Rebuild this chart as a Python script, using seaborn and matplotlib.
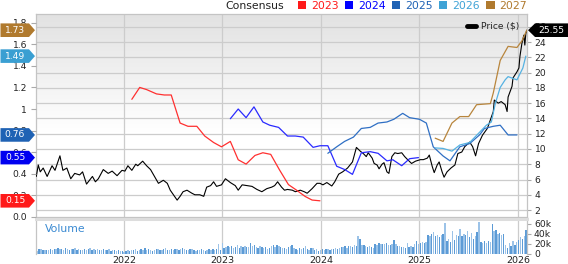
import numpy as np
import pandas as pd
import matplotlib
matplotlib.use("Agg")
import matplotlib.pyplot as plt
import matplotlib.transforms as mtransforms
from matplotlib.patches import Polygon, Patch
from matplotlib.lines import Line2D
from matplotlib.colors import LinearSegmentedColormap
import seaborn as sns

# ---------------- data ----------------
price_t = [2021.11, 2021.13, 2021.15, 2021.18, 2021.22, 2021.27, 2021.30, 2021.35, 2021.38, 2021.42,
           2021.46, 2021.50, 2021.55, 2021.58, 2021.62, 2021.68, 2021.71, 2021.74, 2021.79, 2021.84,
           2021.88, 2021.93, 2021.98, 2022.01, 2022.04, 2022.08, 2022.12, 2022.14, 2022.19, 2022.23,
           2022.27, 2022.31, 2022.35, 2022.40, 2022.44, 2022.47, 2022.54, 2022.57, 2022.60, 2022.64,
           2022.69, 2022.72, 2022.77, 2022.81, 2022.84, 2022.88, 2022.91, 2022.94, 2022.99, 2023.03,
           2023.08, 2023.13, 2023.16, 2023.20, 2023.25, 2023.30, 2023.35, 2023.40, 2023.45, 2023.50,
           2023.53, 2023.56, 2023.60, 2023.63, 2023.66, 2023.71, 2023.74, 2023.79, 2023.83, 2023.86,
           2023.91, 2023.96, 2023.99, 2024.02, 2024.06, 2024.11, 2024.14, 2024.18, 2024.22, 2024.27,
           2024.32, 2024.36, 2024.40, 2024.43, 2024.46, 2024.48, 2024.52, 2024.54, 2024.57, 2024.59,
           2024.62, 2024.64, 2024.67, 2024.69, 2024.72, 2024.75, 2024.78, 2024.82, 2024.85, 2024.88,
           2024.92, 2024.96, 2025.01, 2025.04, 2025.08, 2025.10, 2025.13, 2025.15, 2025.18, 2025.20,
           2025.23, 2025.25, 2025.28, 2025.32, 2025.36, 2025.39, 2025.43, 2025.46, 2025.51, 2025.54,
           2025.57, 2025.60, 2025.64, 2025.69, 2025.72, 2025.75, 2025.76, 2025.80, 2025.83, 2025.87,
           2025.89, 2025.90, 2025.94, 2025.95, 2025.99, 2026.01, 2026.02, 2026.04, 2026.06, 2026.07,
           2026.08, 2026.09]
price_v = [6.4, 7.9, 7.0, 7.5, 6.4, 7.8, 7.2, 9.1, 7.2, 7.5,
           6.1, 6.8, 6.6, 7.0, 5.4, 6.4, 5.7, 6.1, 7.3, 6.8,
           7.1, 6.5, 7.2, 7.1, 7.8, 7.2, 8.0, 7.8, 8.4, 7.8,
           7.3, 6.4, 5.5, 5.9, 5.5, 4.6, 3.3, 3.8, 4.4, 4.6,
           4.2, 4.0, 4.0, 3.8, 5.0, 5.2, 5.7, 5.1, 5.3, 6.1,
           5.6, 5.2, 4.6, 5.3, 5.2, 5.1, 4.7, 4.4, 4.8, 5.0,
           5.2, 5.7, 5.0, 4.6, 4.7, 4.6, 4.4, 4.6, 4.4, 4.2,
           4.8, 5.5, 5.5, 5.3, 5.6, 5.15, 5.7, 6.7, 7.0, 7.5,
           8.3, 10.2, 9.7, 9.4, 9.0, 9.5, 8.8, 8.1, 7.9, 7.4,
           8.0, 8.2, 7.0, 6.8, 9.0, 9.5, 9.4, 9.5, 9.0, 8.6,
           8.1, 8.4, 8.6, 8.6, 8.8, 9.2, 7.7, 6.9, 7.9, 8.3,
           7.0, 6.3, 7.0, 7.5, 7.9, 9.4, 9.6, 10.3, 10.9, 10.3,
           9.1, 10.7, 11.8, 12.7, 13.8, 14.9, 16.4, 16.0, 16.2, 15.8,
           14.9, 16.8, 18.2, 19.3, 20.1, 20.6, 22.1, 23.8, 24.9, 23.6,
           25.1, 25.55]

eps_2023_t = [2022.08, 2022.16, 2022.23, 2022.33, 2022.41, 2022.48, 2022.57, 2022.65, 2022.74, 2022.82,
              2022.91, 2022.99, 2023.08, 2023.16, 2023.24, 2023.33, 2023.41, 2023.49, 2023.58, 2023.67,
              2023.75, 2023.84, 2023.91, 2023.99]
eps_2023_v = [1.09, 1.20, 1.18, 1.14, 1.13, 1.13, 0.87, 0.84, 0.84, 0.75,
              0.69, 0.65, 0.70, 0.53, 0.49, 0.57, 0.595, 0.58, 0.435, 0.30,
              0.25, 0.19, 0.157, 0.15]

eps_2024_t = [2023.08, 2023.16, 2023.24, 2023.32, 2023.41, 2023.48, 2023.57, 2023.66, 2023.74, 2023.82,
              2023.92, 2023.99, 2024.07, 2024.16, 2024.24, 2024.32, 2024.41, 2024.50, 2024.58, 2024.67,
              2024.73, 2024.82, 2024.90, 2024.99]
eps_2024_v = [0.91, 1.00, 0.92, 1.02, 0.88, 0.85, 0.83, 0.75, 0.75, 0.74,
              0.645, 0.66, 0.66, 0.47, 0.44, 0.395, 0.595, 0.605, 0.59, 0.52,
              0.53, 0.475, 0.54, 0.55]

eps_2025_t = [2024.07, 2024.16, 2024.24, 2024.33, 2024.41, 2024.50, 2024.58, 2024.67, 2024.74, 2024.83,
              2024.90, 2025.00, 2025.07, 2025.14, 2025.24, 2025.31, 2025.41, 2025.51, 2025.61, 2025.66,
              2025.75, 2025.82, 2025.90, 2025.99]
eps_2025_v = [0.59, 0.65, 0.70, 0.74, 0.82, 0.83, 0.87, 0.88, 0.905, 0.96,
              0.92, 0.905, 0.87, 0.65, 0.565, 0.52, 0.65, 0.68, 0.76, 0.82,
              0.84, 0.85, 0.76, 0.76]

eps_2026_t = [2025.16, 2025.24, 2025.33, 2025.41, 2025.51, 2025.60, 2025.68, 2025.73, 2025.77, 2025.82,
              2025.87, 2025.90, 2025.99, 2026.05, 2026.08]
eps_2026_v = [0.64, 0.635, 0.61, 0.667, 0.69, 0.775, 0.85, 0.88, 1.05, 1.20,
              1.27, 1.30, 1.27, 1.38, 1.49]

eps_2027_t = [2025.16, 2025.24, 2025.33, 2025.41, 2025.50, 2025.58, 2025.72, 2025.75, 2025.82, 2025.90,
              2025.99, 2026.04, 2026.09]
eps_2027_v = [0.73, 0.70, 0.87, 0.93, 0.93, 1.04, 1.05, 1.15, 1.45, 1.58,
              1.57, 1.63, 1.73]

fiscal_years = ["2023", "2024", "2025", "2026", "2027"]
latest_eps = [0.15, 0.55, 0.76, 1.49, 1.73]
last_price = 25.55

# weekly volume, thousands of shares
volume_start = 2021.12
vol_2021 = [6, 9, 10, 8, 8, 7, 8, 9, 8, 9, 10, 11, 9, 10, 8, 12, 9, 8, 10, 9,
            11, 8, 9, 7, 8, 9, 7, 10, 11, 8, 9, 8, 10, 7, 8, 9, 7, 8, 9, 6,
            7, 8, 6, 7, 5, 6]
vol_2022 = [4, 5, 7, 6, 8, 7, 9, 6, 8, 10, 7, 12, 8, 9, 7, 6, 8, 9, 10, 7,
            8, 9, 11, 8, 7, 9, 8, 10, 9, 8, 10, 11, 9, 8, 7, 9, 10, 8, 6, 7,
            8, 9, 7, 6, 8, 9, 7, 10, 8, 9, 20, 8]
vol_2023 = [21, 12, 14, 16, 13, 15, 12, 14, 17, 12, 15, 13, 16, 14, 13, 21, 15, 18, 13, 12,
            16, 14, 11, 13, 10, 12, 15, 17, 13, 18, 16, 14, 11, 12, 10, 14, 16, 17, 12, 10,
            8, 11, 9, 12, 16, 10, 8, 12, 11, 7, 10, 6]
vol_2024 = [7, 9, 8, 10, 9, 7, 10, 9, 11, 10, 12, 14, 13, 15, 12, 16, 15, 14, 17, 16,
            36, 30, 18, 17, 15, 14, 16, 13, 12, 20, 18, 21, 20, 19, 20, 22, 18, 17, 19, 28,
            20, 16, 15, 13, 14, 12, 21, 13, 16, 14, 20, 25]
vol_2025 = [20, 22, 24, 21, 23, 38, 36, 40, 43, 35, 38, 33, 37, 40, 61, 25, 30, 23, 45, 28,
            37, 35, 50, 36, 40, 38, 45, 33, 41, 30, 36, 44, 64, 24, 22, 25, 21, 26, 23, 59,
            45, 47, 40, 42, 37, 40, 17, 12, 22, 15, 25, 18]
vol_2026 = [24, 28, 33, 30, 36, 48]

year_ticks = [2022, 2023, 2024, 2025, 2026]
eps_ticks = [0.0, 0.2, 0.4, 0.6, 0.8, 1.0, 1.2, 1.4, 1.6, 1.8]
eps_tick_labels = ["0.0", "0.2", "0.4", "0.6", "0.8", "1", "1.2", "1.4", "1.6", "1.8"]
price_ticks = [2, 4, 6, 8, 10, 12, 14, 16, 18, 20, 22, 24, 26]
vol_ticks = [0, 20, 40, 60]
vol_tick_labels = ["0", "20k", "40k", "60k"]

# ---------------- styling ----------------
fy_colors = ["#ff1a1a", "#0000ff", "#1f62b4", "#3fa3d6", "#b07a2e"]
line_colors = ["#ff3030", "#2a2aff", "#2f6fc4", "#55b2e2", "#b8853c"]
tag_colors = ["#ff1a1a", "#0000f0", "#1f62b4", "#3a9fd2", "#b07a2e"]

sns.set_style("white")
plt.rcParams["font.family"] = ["DejaVu Sans"]

W, H = 568, 264
fig = plt.figure(figsize=(W / 100, H / 100), dpi=100)
fig.patch.set_facecolor("white")


def rect(l, t, r, b):
    return [l / W, 1 - b / H, (r - l) / W, (b - t) / H]


ax_p = fig.add_axes(rect(36, 14, 527, 217))
ax_e = ax_p.twinx()
ax_v = fig.add_axes(rect(36, 219, 527, 253.5))

# gradient background
grad = np.linspace(1, 0, 256).reshape(-1, 1)
bg_cmap = LinearSegmentedColormap.from_list("bg", [(0, "white"), (0.42, "white"), (1, "#e2e2e2")])
ax_p.imshow(grad, extent=(0, 1, 0, 1), transform=ax_p.transAxes, aspect="auto",
            cmap=bg_cmap, vmin=0, vmax=1, zorder=0, interpolation="bilinear")

# price line
sns.lineplot(x=price_t, y=price_v, ax=ax_p, color="black", lw=0.8,
             sort=False, estimator=None, zorder=3)

# EPS consensus lines
eps_t = [eps_2023_t, eps_2024_t, eps_2025_t, eps_2026_t, eps_2027_t]
eps_v = [eps_2023_v, eps_2024_v, eps_2025_v, eps_2026_v, eps_2027_v]
df_eps = pd.concat([pd.DataFrame({"t": t, "eps": v, "fy": fy})
                    for t, v, fy in zip(eps_t, eps_v, fiscal_years)], ignore_index=True)
sns.lineplot(data=df_eps, x="t", y="eps", hue="fy", hue_order=fiscal_years,
             palette=dict(zip(fiscal_years, line_colors)), ax=ax_e, lw=0.9,
             legend=False, estimator=None, sort=False)

# volume bars
volume_k = np.array(vol_2021 + vol_2022 + vol_2023 + vol_2024 + vol_2025 + vol_2026, dtype=float)
step = 1 / 52.18
vol_t = volume_start + np.arange(len(volume_k)) * step
df_vol = pd.DataFrame({"t": vol_t, "vol": volume_k,
                       "alt": np.where(np.arange(len(volume_k)) % 2 == 0, "a", "b")})
sns.barplot(data=df_vol, x="t", y="vol", hue="alt", palette={"a": "#9cc3e8", "b": "#5c9bd6"},
            native_scale=True, dodge=False, width=0.72, legend=False, errorbar=None,
            saturation=1, linewidth=0, ax=ax_v)

# ---------------- axes ----------------
xlim = (2021.107, 2026.092)
ax_p.set_xlim(xlim)
ax_v.set_xlim(xlim)
ax_p.set_ylim(1.09, 27.67)
ax_e.set_ylim(0, 1.88)
ax_v.set_ylim(0, 69)
for a in (ax_p, ax_e, ax_v):
    a.set_xlabel("")
    a.set_ylabel("")

ax_p.set_xticks(year_ticks)
ax_p.set_yticks(price_ticks)
ax_p.set_yticklabels([str(v) for v in price_ticks])
ax_p.yaxis.tick_right()
ax_p.tick_params(axis="y", left=False, right=True, labelleft=False, labelright=True,
                 length=3, pad=2.5, labelsize=6.6, color="#aaaaaa", labelcolor="#222222")
ax_p.tick_params(axis="x", length=0, labelbottom=False)
ax_p.grid(True, axis="both", color="#cccccc", lw=0.9)
ax_p.set_axisbelow(True)

ax_e.yaxis.tick_left()
ax_e.set_yticks(eps_ticks)
ax_e.set_yticklabels(eps_tick_labels)
ax_e.tick_params(axis="y", left=True, right=False, labelleft=True, labelright=False,
                 length=3.5, pad=3, labelsize=6.6, color="#aaaaaa", labelcolor="#222222")
ax_e.grid(False)
for s in ax_e.spines.values():
    s.set_visible(False)

for s in ax_p.spines.values():
    s.set_color("#c4c4c4")
    s.set_linewidth(0.9)

ax_v.set_xticks(year_ticks)
ax_v.set_xticklabels([str(y) for y in year_ticks])
ax_v.yaxis.tick_right()
ax_v.set_yticks(vol_ticks)
ax_v.set_yticklabels(vol_tick_labels)
ax_v.tick_params(axis="y", left=False, right=True, labelleft=False, labelright=True,
                 length=3, pad=2, labelsize=6.6, color="#aaaaaa", labelcolor="#222222")
ax_v.tick_params(axis="x", length=0, pad=1.5, labelsize=6.8, labelcolor="#222222", labelbottom=True)
ax_v.grid(True, axis="x", color="#cccccc", lw=0.9)
ax_v.grid(False, axis="y")
ax_v.set_axisbelow(True)
for s in ax_v.spines.values():
    s.set_color("#c4c4c4")
    s.set_linewidth(0.9)
ax_v.spines["bottom"].set_visible(False)
ax_v.spines["top"].set_color("#dddddd")
ax_v.spines["top"].set_linewidth(2.2)

ax_v.text(0.018, 0.70, "Volume", transform=ax_v.transAxes, color="#3a8ad2",
          fontsize=7.8, va="center", ha="left")

# price legend
ax_e.legend(handles=[Line2D([0], [0], color="black", lw=3.5)], labels=["Price ($)"],
            loc="upper right", frameon=False, fontsize=6.6, handlelength=1.0,
            handletextpad=0.5, borderaxespad=0.5, borderpad=0.35)

# header legend
fig.text(225 / W, 1 - 6 / H, "Consensus", fontsize=7.8, va="center", ha="left", color="#222222")
fig.legend(handles=[Patch(facecolor=c, edgecolor="none") for c in fy_colors],
           labels=fiscal_years, loc="center right", bbox_to_anchor=(527 / W, 1 - 6 / H),
           ncol=5, frameon=False, fontsize=7.8, handlelength=0.75, handleheight=0.75,
           handletextpad=0.45, columnspacing=0.6, labelcolor=fy_colors,
           borderpad=0, borderaxespad=0)

# value tags
ident = mtransforms.IdentityTransform()


def tag(ypx, body0, body1, tip, color, text, text_x):
    h = 6.8
    if tip > body1:
        pts = [(body0, ypx - h), (body1, ypx - h), (tip, ypx), (body1, ypx + h), (body0, ypx + h)]
    else:
        pts = [(body1, ypx - h), (body0, ypx - h), (tip, ypx), (body0, ypx + h), (body1, ypx + h)]
    fig.add_artist(Polygon(pts, closed=True, transform=ident, facecolor=color,
                           edgecolor="none", zorder=10))
    fig.text(text_x, ypx, text, transform=ident, color="white", fontsize=6.6,
             ha="center", va="center", zorder=11)


for val, col in zip(latest_eps, tag_colors):
    ypx = ax_e.transData.transform((xlim[0], val))[1]
    tag(ypx, 0.5, 29, 35, col, f"{val:.2f}", 15)

ypx = ax_p.transData.transform((xlim[1], last_price))[1]
tag(ypx, 535, 568, 528, "black", f"{last_price:.2f}", 551.5)

fig.savefig("out.png", dpi=100)
